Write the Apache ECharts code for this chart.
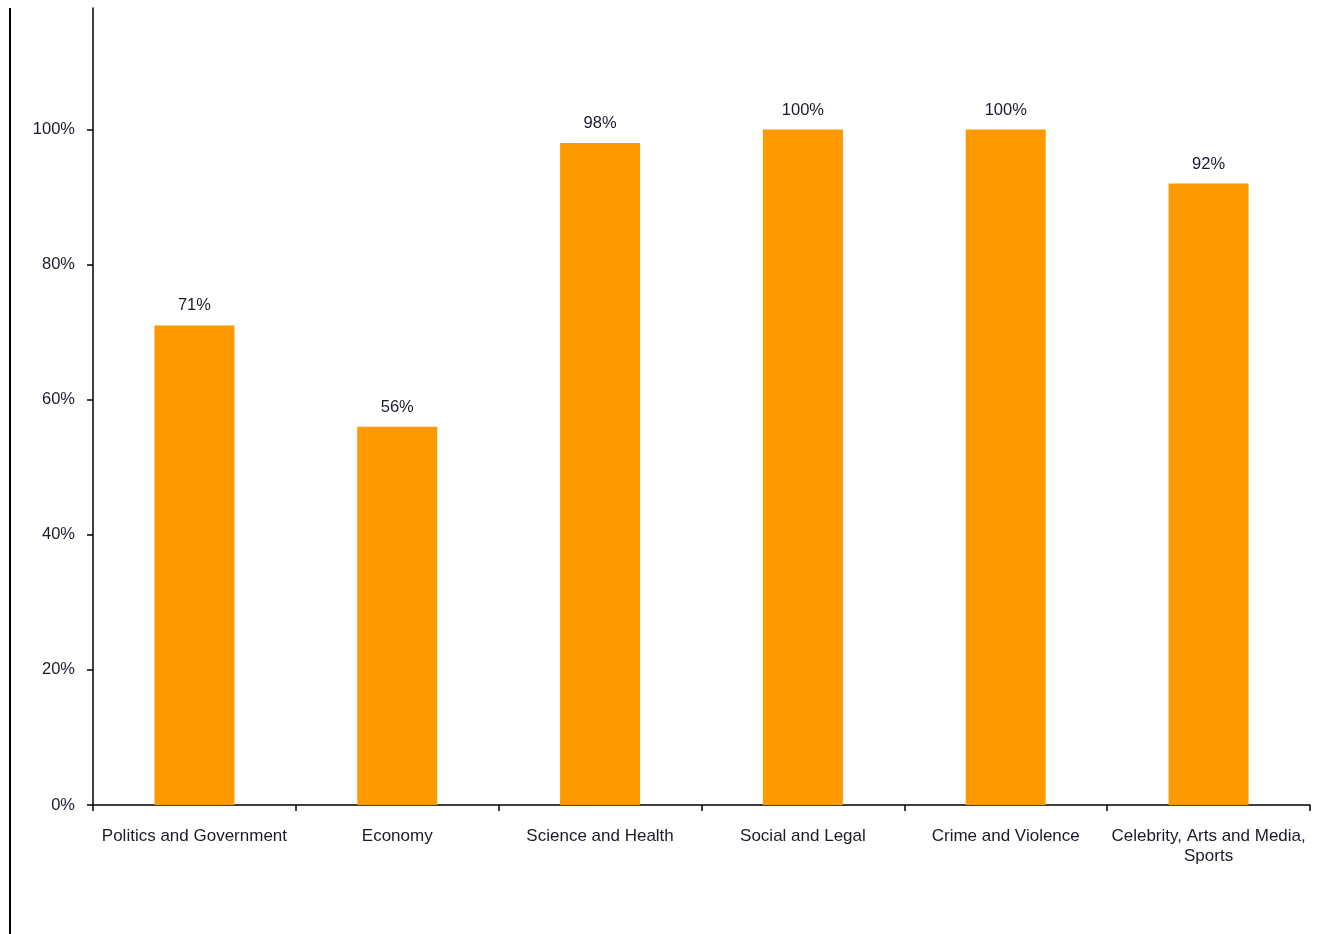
<!DOCTYPE html>
<html>
<head>
<meta charset="utf-8">
<style>
  html, body { margin: 0; padding: 0; background: #ffffff; }
  #chart { width: 1328px; height: 934px; }
</style>
<script src="https://cdn.jsdelivr.net/npm/echarts@6/dist/echarts.min.js"></script>
</head>
<body>
<div id="chart"></div>
<script>
// Share of stories per topic
const categories = [
  'Politics and Government',
  'Economy',
  'Science and Health',
  'Social and Legal',
  'Crime and Violence',
  'Celebrity, Arts and Media,\nSports'
];
const shares = [71, 56, 98, 100, 100, 92];
const yTicks = [0, 20, 40, 60, 80, 100];

const textColor = '#1a1a2a';
const fontFamily = '"Liberation Sans", Arial, sans-serif';

const chart = echarts.init(document.getElementById('chart'), null, { renderer: 'canvas' });
chart.setOption({
  animation: false,
  backgroundColor: '#ffffff',
  grid: { left: 93, right: 18, top: 8, bottom: 129, containLabel: false },
  xAxis: {
    type: 'category',
    data: categories,
    boundaryGap: true,
    axisLine: { lineStyle: { color: '#000', width: 1.5 } },
    axisTick: { show: true, length: 6, alignWithLabel: false, lineStyle: { color: '#000', width: 1.5 } },
    axisLabel: {
      interval: 0,
      margin: 21,
      color: textColor,
      fontFamily: fontFamily,
      fontSize: 17,
      lineHeight: 20,
      align: 'center'
    },
    splitLine: { show: false }
  },
  yAxis: {
    type: 'value',
    min: 0,
    max: 118,
    interval: 20,
    axisLine: { show: true, lineStyle: { color: '#000', width: 1.5 } },
    axisTick: { show: true, length: 6, customValues: yTicks, lineStyle: { color: '#000', width: 1.5 } },
    axisLabel: {
      customValues: yTicks,
      margin: 18,
      color: textColor,
      fontFamily: fontFamily,
      fontSize: 16.5,
      formatter: v => v + '%'
    },
    splitLine: { show: false }
  },
  series: [{
    type: 'bar',
    data: shares,
    barWidth: 80,
    itemStyle: { color: '#FF9900' },
    label: {
      show: true,
      position: 'top',
      distance: 11,
      color: textColor,
      fontFamily: fontFamily,
      fontSize: 16.5,
      formatter: p => p.value + '%'
    }
  }],
  graphic: [{
    type: 'line',
    shape: { x1: 10, y1: 8, x2: 10, y2: 934 },
    style: { stroke: '#000', lineWidth: 2 }
  }]
});
</script>
</body>
</html>
